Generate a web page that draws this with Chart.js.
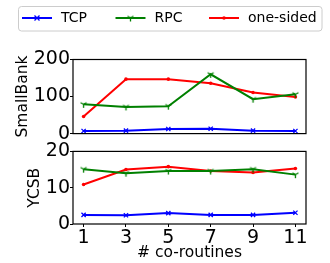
<!DOCTYPE html>
<html>
<head>
<meta charset="utf-8">
<script src="https://cdn.jsdelivr.net/npm/chart.js@4"></script>
<style>
  body { margin: 0; background: #fff; }
  #wrap { position: relative; width: 330px; height: 263px; }
  canvas { position: absolute; left: 0; }
</style>
</head>
<body>
<div id="wrap">
  <canvas id="top-chart" width="330" height="145" style="top:0"></canvas>
  <canvas id="bottom-chart" width="330" height="123" style="top:140px"></canvas>
</div>
<script>
// Данные
const coroutines = [1, 3, 5, 7, 9, 11];
const seriesNames = ['TCP', 'RPC', 'one-sided'];
const seriesColors = ['#0000ff', '#008000', '#ff0000'];

const smallbankTCP = [7, 8, 12.5, 13, 8, 7];
const smallbankRPC = [79, 72, 74, 160, 93, 106];
const smallbankOneSided = [46, 147, 147, 136, 111, 99];

const ycsbTCP = [2.5, 2.4, 3.0, 2.5, 2.5, 3.1];
const ycsbRPC = [15.1, 14.0, 14.6, 14.6, 15.1, 13.6];
const ycsbOneSided = [10.9, 15.0, 15.8, 14.6, 14.2, 15.3];

const smallbankTicks = [0, 100, 200];
const ycsbTicks = [0, 10, 20];

Chart.defaults.font.family = "'DejaVu Sans', sans-serif";
Chart.defaults.color = '#000';

// маркер tri_down для RPC
function makeTriDown(color) {
    const c = document.createElement('canvas');
    c.width = 9; c.height = 9;
    const g = c.getContext('2d');
    g.strokeStyle = color;
    g.lineWidth = 1.3;
    g.beginPath();
    g.moveTo(4.5, 4.5); g.lineTo(4.5, 8);
    g.moveTo(4.5, 4.5); g.lineTo(1.5, 2.8);
    g.moveTo(4.5, 4.5); g.lineTo(7.5, 2.8);
    g.stroke();
    return c;
}
const triDown = makeTriDown(seriesColors[1]);

function points(values) {
    return coroutines.map((x, i) => ({ x: x, y: values[i] }));
}

function makeDatasets(tcp, rpc, oneSided) {
    return [
        { label: seriesNames[0], data: points(tcp), borderColor: seriesColors[0], backgroundColor: seriesColors[0],
          pointStyle: 'crossRot', pointRadius: 3, pointBorderWidth: 1.3 },
        { label: seriesNames[1], data: points(rpc), borderColor: seriesColors[1], backgroundColor: seriesColors[1],
          pointStyle: triDown, pointRadius: 4 },
        { label: seriesNames[2], data: points(oneSided), borderColor: seriesColors[2], backgroundColor: seriesColors[2],
          pointStyle: 'circle', pointRadius: 1.8, pointBorderWidth: 0 }
    ].map(ds => Object.assign(ds, { borderWidth: 2, tension: 0, pointHoverRadius: 0 }));
}

// рамка вокруг области графика
const frame = {
    id: 'frame',
    afterDatasetsDraw(chart) {
        const a = chart.chartArea;
        const ctx = chart.ctx;
        ctx.save();
        ctx.strokeStyle = '#000';
        ctx.lineWidth = 1.2;
        ctx.strokeRect(a.left, a.top, a.right - a.left, a.bottom - a.top);
        ctx.restore();
    }
};

// легенда в стиле matplotlib
const legendBox = {
    id: 'legendBox',
    afterDraw(chart) {
        const ctx = chart.ctx;
        ctx.save();
        ctx.strokeStyle = '#cccccc';
        ctx.lineWidth = 1;
        ctx.beginPath();
        ctx.roundRect(18.5, 6.5, 303.5, 24.5, 3);
        ctx.stroke();
        ctx.font = "14px 'DejaVu Sans'";
        ctx.textBaseline = 'middle';
        chart.data.datasets.forEach((ds, i) => {
            const x0 = 22 + i * 93.5;
            const y = 18;
            ctx.strokeStyle = ds.borderColor;
            ctx.fillStyle = ds.borderColor;
            ctx.lineWidth = 2;
            ctx.beginPath();
            ctx.moveTo(x0, y); ctx.lineTo(x0 + 30, y);
            ctx.stroke();
            const mx = x0 + 15;
            if (i === 0) {
                ctx.lineWidth = 1.3;
                ctx.beginPath();
                ctx.moveTo(mx - 2.5, y - 2.5); ctx.lineTo(mx + 2.5, y + 2.5);
                ctx.moveTo(mx + 2.5, y - 2.5); ctx.lineTo(mx - 2.5, y + 2.5);
                ctx.stroke();
            } else if (i === 1) {
                ctx.drawImage(triDown, mx - 4.5, y - 4.5);
            } else {
                ctx.beginPath();
                ctx.arc(mx, y, 1.8, 0, Math.PI * 2);
                ctx.fill();
            }
            ctx.fillStyle = '#000';
            ctx.fillText(ds.label, x0 + 39, y);
        });
        ctx.restore();
    }
};

function yScale(ticks, title, titlePad) {
    return {
        min: ticks[0], max: ticks[ticks.length - 1],
        afterBuildTicks: s => { s.ticks = ticks.map(v => ({ value: v })); },
        afterFit: s => { s.width = 73; },
        border: { display: false },
        grid: { drawOnChartArea: false, drawTicks: true, tickLength: 3, color: '#000' },
        ticks: { font: { size: 19 }, padding: 0, color: '#000' },
        title: { display: true, text: title, font: { size: 15.5 }, padding: { top: titlePad, bottom: 0 }, color: '#000' }
    };
}

function xScale(showLabels) {
    return {
        type: 'linear', min: 0.5, max: 11.5,
        display: showLabels,
        afterBuildTicks: s => { s.ticks = coroutines.map(v => ({ value: v })); },
        afterFit: s => { s.height = showLabels ? 39 : 0; },
        border: { display: false },
        grid: { drawOnChartArea: false, drawTicks: true, tickLength: 3, color: '#000' },
        ticks: { font: { size: 19 }, padding: 0, color: '#000', maxRotation: 0 },
        title: { display: true, text: '# co-routines', font: { size: 15.5 }, padding: { top: 0, bottom: 1 }, color: '#000' }
    };
}

const baseOptions = {
    responsive: false,
    animation: false,
    plugins: { legend: { display: false }, tooltip: { enabled: false } }
};

new Chart(document.getElementById('top-chart').getContext('2d'), {
    type: 'line',
    data: { datasets: makeDatasets(smallbankTCP, smallbankRPC, smallbankOneSided) },
    options: Object.assign({}, baseOptions, {
        layout: { padding: { left: 0, right: 24, top: 59.5, bottom: 11 } },
        scales: { x: xScale(false), y: yScale(smallbankTicks, 'SmallBank', 13.5) }
    }),
    plugins: [frame, legendBox]
});

new Chart(document.getElementById('bottom-chart').getContext('2d'), {
    type: 'line',
    data: { datasets: makeDatasets(ycsbTCP, ycsbRPC, ycsbOneSided) },
    options: Object.assign({}, baseOptions, {
        layout: { padding: { left: 0, right: 24, top: 9.5, bottom: 0 } },
        scales: { x: xScale(true), y: yScale(ycsbTicks, 'YCSB', 25.5) }
    }),
    plugins: [frame]
});
</script>
</body>
</html>
